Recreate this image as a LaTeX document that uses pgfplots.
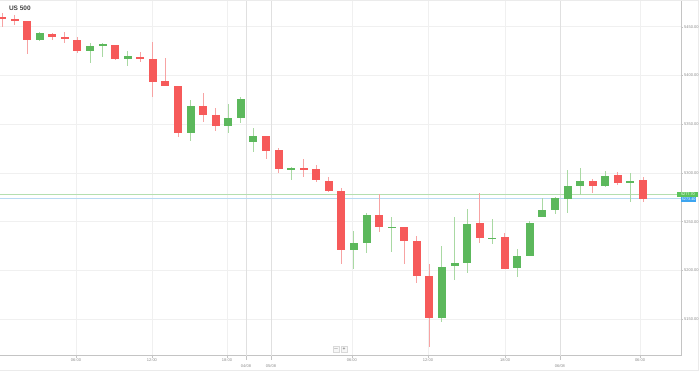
\documentclass[border=0pt]{standalone}
\usepackage{pgfplots}
\pgfplotsset{compat=1.18}
\usepackage{pgfplotstable}
\usepackage{fontspec}
\setmainfont{Liberation Sans}

\definecolor{cred}{HTML}{F65A5A}
\definecolor{cgreen}{HTML}{5CB85C}
\definecolor{wred}{HTML}{F7A3A3}
\definecolor{wgreen}{HTML}{A9D9A3}
\definecolor{gridc}{HTML}{F0F0F0}
\definecolor{dgridc}{HTML}{E0E0E0}
\definecolor{axc}{HTML}{C4C4C4}
\definecolor{lblc}{HTML}{8A8A8A}
\definecolor{plgreen}{HTML}{B5DFB0}
\definecolor{plblue}{HTML}{B8DAF2}
\definecolor{lbgreen}{HTML}{5CC45C}
\definecolor{lbblue}{HTML}{3DA5F0}

\pgfplotstableread{
x O H L C
1 5460.4 5464.2 5449.8 5458.7
2 5458.0 5462.1 5451.9 5456.3
3 5456.3 5456.3 5422.1 5436.5
5 5442.6 5443.6 5436.5 5439.2
6 5439.2 5444.7 5433.1 5437.2
7 5436.5 5439.8 5423.4 5424.9
10 5431.6 5431.6 5416.5 5417.0
12 5419.3 5423.8 5414.2 5416.7
13 5416.7 5434.7 5377.7 5393.7
14 5394.1 5417.7 5389.3 5389.6
15 5389.6 5389.6 5337.2 5340.7
17 5368.7 5381.8 5352.3 5359.5
18 5359.2 5366.4 5343.4 5348.2
22 5338.0 5338.0 5314.7 5322.9
23 5323.3 5325.3 5299.7 5304.1
25 5304.8 5314.7 5296.2 5302.8
26 5303.8 5308.0 5290.8 5292.8
27 5292.1 5295.9 5280.8 5281.8
28 5281.8 5284.3 5206.3 5221.0
31 5256.6 5278.1 5239.5 5244.6
33 5244.6 5244.6 5206.3 5229.9
34 5230.2 5235.4 5186.8 5194.6
35 5194.6 5206.3 5121.8 5150.9
39 5248.4 5279.8 5228.5 5233.0
41 5234.3 5238.1 5201.8 5201.8
48 5291.8 5293.5 5279.8 5286.7
50 5297.9 5301.0 5287.4 5290.0
52 5292.5 5296.2 5269.9 5273.0
}\redtable

\pgfplotstableread{
x O H L C
4 5436.5 5444.7 5435.7 5443.3
8 5424.9 5433.1 5413.2 5430.6
9 5431.3 5433.1 5419.3 5432.0
11 5417.0 5425.5 5409.8 5420.0
16 5340.7 5374.9 5333.1 5368.7
19 5348.2 5370.5 5341.3 5356.1
20 5356.1 5378.3 5351.6 5375.9
21 5331.5 5346.2 5321.9 5338.0
24 5303.8 5306.5 5292.8 5304.8
29 5221.0 5240.5 5201.8 5228.5
30 5228.5 5258.7 5218.2 5257.2
32 5243.9 5254.5 5219.3 5244.9
36 5150.9 5225.1 5147.4 5203.9
37 5204.6 5254.5 5190.2 5207.7
38 5207.4 5263.1 5197.7 5247.7
40 5232.6 5252.5 5227.2 5233.6
42 5202.2 5222.3 5193.6 5215.2
43 5215.2 5250.8 5215.2 5248.4
44 5254.5 5274.0 5254.5 5261.7
45 5261.7 5275.7 5257.9 5274.0
46 5273.6 5303.1 5258.7 5286.7
47 5286.7 5305.1 5277.4 5291.8
49 5286.7 5302.4 5286.0 5297.2
51 5290.0 5299.7 5270.6 5292.1
}\greentable

\begin{document}
\begin{tikzpicture}
\useasboundingbox (0,0) rectangle (699pt,371pt);
% outer frame lines
\draw[black!8, line width=0.8pt] (0,370.6pt) -- (699pt,370.6pt);
\draw[black!8, line width=0.8pt] (0,0.5pt) -- (699pt,0.5pt);
\draw[black!8, line width=0.8pt] (698pt,0) -- (698pt,371pt);
\begin{axis}[
  scale only axis,
  width=681pt, height=354.7pt,
  at={(0pt,15.3pt)}, anchor=south west,
  xmin=0.841, xmax=55.02,
  ymin=5112.5, ymax=5476.5,
  clip=false,
  separate axis lines,
  axis x line*=bottom,
  axis y line*=right,
  axis line style={axc, line width=0.8pt},
  every outer x axis line/.append style={-},
  every outer y axis line/.append style={-},
  xtick={6.887,12.93,18.90,28.84,34.89,41.02,51.76},
  xticklabels={06:00,12:00,18:00,06:00,12:00,18:00,06:00},
  extra x ticks={20.41,22.40,45.39},
  extra x tick labels={04/08,05/08,06/08},
  extra x tick style={
    grid style={dgridc, line width=0.8pt},
    major tick length=4pt,
    xticklabel style={yshift=-3.5pt}},
  ytick={5150,5200,5250,5300,5350,5400,5450},
  grid=major,
  grid style={gridc, line width=0.8pt},
  tick style={axc, line width=0.6pt},
  major tick length=2pt,
  tick align=outside,
  xticklabel style={font=\fontsize{4}{4}\selectfont, text=lblc, inner sep=1pt},
  yticklabel style={font=\fontsize{4}{4}\selectfont, text=lblc, inner sep=1pt},
  /pgf/number format/assume math mode=true,
  yticklabel={\pgfmathprintnumber[fixed, fixed zerofill, precision=2, 1000 sep={}]{\tick}},
  candle/.style={draw=none, no markers,
    error bars/.cd, y dir=both, y explicit, error mark=none},
]
% price lines
\addplot[plgreen, line width=1.2pt] coordinates {(0.841,5278.0) (55.02,5278.0)};
\addplot[plblue, line width=1.0pt] coordinates {(0.841,5273.8) (55.02,5273.8)};
% wicks
\addplot[candle, error bar style={line width=0.9pt, draw=wred}]
  table[x=x, y expr={(\thisrow{H}+\thisrow{L})/2}, y error expr={(\thisrow{H}-\thisrow{L})/2}] {\redtable};
\addplot[candle, error bar style={line width=0.9pt, draw=wgreen}]
  table[x=x, y expr={(\thisrow{H}+\thisrow{L})/2}, y error expr={(\thisrow{H}-\thisrow{L})/2}] {\greentable};
% bodies
\addplot[candle, error bar style={line width=8pt, draw=cred}]
  table[x=x, y expr={(\thisrow{O}+\thisrow{C})/2}, y error expr={max(abs(\thisrow{O}-\thisrow{C})/2,0.6)}] {\redtable};
\addplot[candle, error bar style={line width=8pt, draw=cgreen}]
  table[x=x, y expr={(\thisrow{O}+\thisrow{C})/2}, y error expr={max(abs(\thisrow{O}-\thisrow{C})/2,0.6)}] {\greentable};
% price labels
\node[fill=lbgreen, text=white, inner sep=0.6pt, minimum width=21pt, minimum height=5pt,
  font=\fontsize{3.8}{4}\selectfont, anchor=west] at (axis cs:54.72,5278.4) {5277.70};
\node[fill=lbblue, text=white, inner sep=0.6pt, minimum width=15pt, minimum height=4.6pt,
  font=\fontsize{3.8}{4}\selectfont, anchor=west] at (axis cs:55.02,5273.0) {5273.40};
\end{axis}
% title
\node[anchor=west, font=\bfseries\fontsize{6.5}{7}\selectfont, text=black!75] at (5.5pt,362.5pt) {US 500};
% zoom buttons
\node[draw=black!15, fill=black!3, inner sep=0pt, minimum width=6pt, minimum height=6pt,
  font=\fontsize{5}{5}\selectfont, text=black!70] at (336pt,22pt) {$-$};
\node[draw=black!15, fill=black!3, inner sep=0pt, minimum width=6pt, minimum height=6pt,
  font=\fontsize{5}{5}\selectfont, text=black!70] at (344pt,22pt) {+};
\end{tikzpicture}
\end{document}
